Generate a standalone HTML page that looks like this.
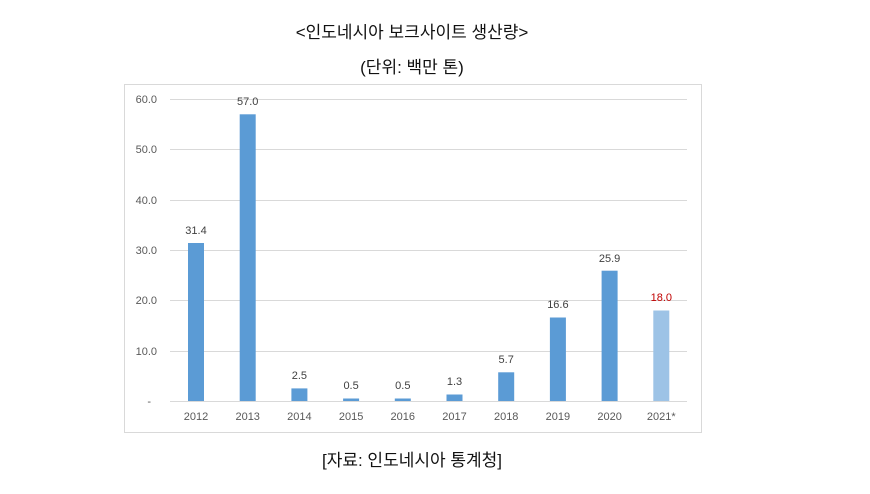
<!DOCTYPE html><html><head><style>body{margin:0;background:#fff}</style></head><body>
<svg width="870" height="489" xmlns="http://www.w3.org/2000/svg" font-family="'Liberation Sans','Noto Sans CJK KR',sans-serif">
<text x="412" y="38" font-size="17" text-anchor="middle" fill="#111">&lt;인도네시아 보크사이트 생산량&gt;</text>
<text x="412" y="73" font-size="17" text-anchor="middle" fill="#111">(단위: 백만 톤)</text>
<rect x="124.5" y="84.5" width="577" height="348" fill="#fff" stroke="#d9d9d9"/>
<g stroke="#d9d9d9" stroke-width="1">
<line x1="170" x2="687" y1="99.5" y2="99.5"/><line x1="170" x2="687" y1="149.5" y2="149.5"/><line x1="170" x2="687" y1="200.5" y2="200.5"/><line x1="170" x2="687" y1="250.5" y2="250.5"/><line x1="170" x2="687" y1="300.5" y2="300.5"/><line x1="170" x2="687" y1="351.5" y2="351.5"/><line x1="170" x2="687" y1="401.5" y2="401.5"/>
</g>
<g font-size="11" fill="#595959" text-anchor="end">
<text x="157" y="103">60.0</text><text x="157" y="153">50.0</text><text x="157" y="204">40.0</text><text x="157" y="254">30.0</text><text x="157" y="304">20.0</text><text x="157" y="355">10.0</text><text x="151" y="405">-</text>
</g>
<g fill="#5b9bd5">
<rect x="188" y="243" width="16" height="158"/>
<rect x="239.7" y="114.3" width="16" height="286.7"/>
<rect x="291.4" y="388.4" width="16" height="12.6"/>
<rect x="343.1" y="398.5" width="16" height="2.5"/>
<rect x="394.8" y="398.5" width="16" height="2.5"/>
<rect x="446.5" y="394.5" width="16" height="6.5"/>
<rect x="498.2" y="372.3" width="16" height="28.7"/>
<rect x="549.9" y="317.5" width="16" height="83.5"/>
<rect x="601.6" y="270.7" width="16" height="130.3"/>
<rect x="653.3" y="310.5" width="16" height="90.5" fill="#9dc3e6"/>
</g>
<g font-size="11" fill="#404040" text-anchor="middle">
<text x="196" y="234">31.4</text><text x="247.7" y="105">57.0</text><text x="299.4" y="379">2.5</text><text x="351.1" y="389">0.5</text><text x="402.8" y="389">0.5</text><text x="454.5" y="385">1.3</text><text x="506.2" y="363">5.7</text><text x="557.9" y="308">16.6</text><text x="609.6" y="262">25.9</text><text x="661.3" y="301" fill="#c00000">18.0</text>
</g>
<g font-size="11" fill="#595959" text-anchor="middle">
<text x="196" y="420">2012</text><text x="247.7" y="420">2013</text><text x="299.4" y="420">2014</text><text x="351.1" y="420">2015</text><text x="402.8" y="420">2016</text><text x="454.5" y="420">2017</text><text x="506.2" y="420">2018</text><text x="557.9" y="420">2019</text><text x="609.6" y="420">2020</text><text x="661.3" y="420">2021*</text>
</g>
<text x="412" y="466" font-size="17" text-anchor="middle" fill="#111">[자료: 인도네시아 통계청]</text>
</svg></body></html>
